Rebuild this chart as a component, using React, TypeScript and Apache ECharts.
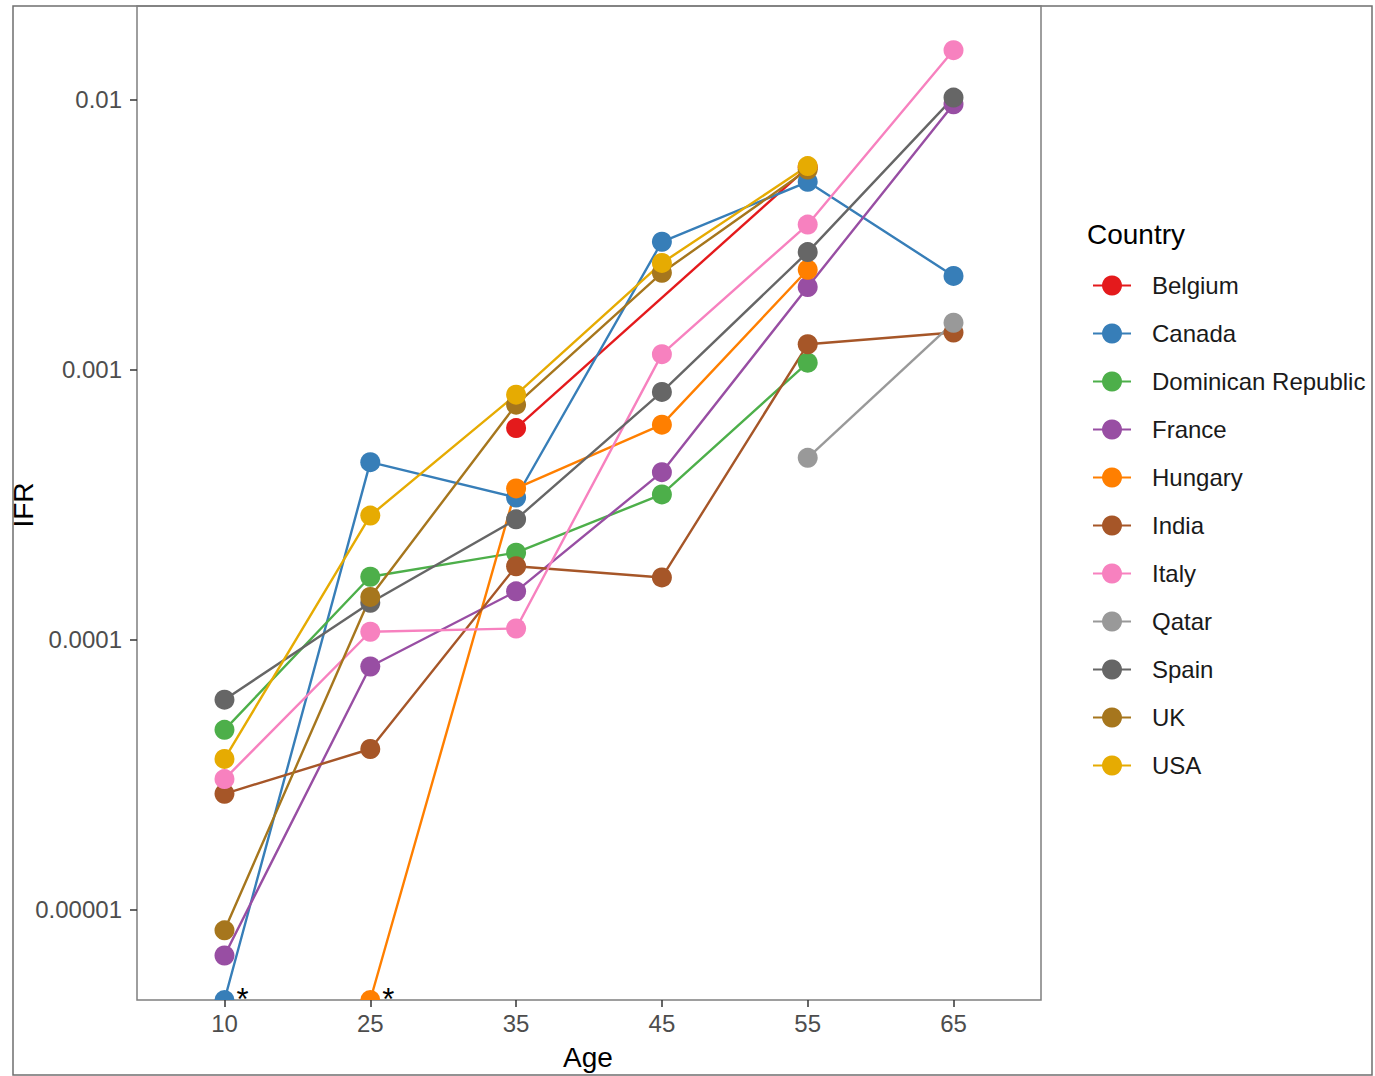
import React, { useEffect, useRef } from "react";
import * as echarts from "echarts";

// ---------- data ----------
const AGES = ["10", "25", "35", "45", "55", "65"];
const COUNTRIES = [
  "Belgium",
  "Canada",
  "Dominican Republic",
  "France",
  "Hungary",
  "India",
  "Italy",
  "Qatar",
  "Spain",
  "UK",
  "USA",
];
const COLORS = [
  "#E41A1C",
  "#377EB8",
  "#4DAF4A",
  "#984EA3",
  "#FF7F00",
  "#A65628",
  "#F781BF",
  "#999999",
  "#666666",
  "#A6761D",
  "#E6AB02",
];
// IFR per age group (10, 25, 35, 45, 55, 65); null = no data, 0 = zero deaths (*)
const BELGIUM = [null, null, 6.07e-4, null, 5.6e-3, null];
const CANADA = [0, 4.54e-4, 3.36e-4, 2.97e-3, 4.95e-3, 2.22e-3];
const DOMINICAN_REPUBLIC = [4.64e-5, 1.71e-4, 2.1e-4, 3.45e-4, 1.06e-3, null];
const FRANCE = [6.78e-6, 7.96e-5, 1.51e-4, 4.17e-4, 2.02e-3, 9.58e-3];
const HUNGARY = [null, 0, 3.63e-4, 6.25e-4, 2.34e-3, null];
const INDIA = [2.69e-5, 3.94e-5, 1.87e-4, 1.7e-4, 1.24e-3, 1.37e-3];
const ITALY = [3.05e-5, 1.07e-4, 1.1e-4, 1.14e-3, 3.44e-3, 1.52e-2];
const QATAR = [null, null, null, null, 4.71e-4, 1.49e-3];
const SPAIN = [6.0e-5, 1.37e-4, 2.79e-4, 8.26e-4, 2.72e-3, 1.015e-2];
const UK = [8.4e-6, 1.44e-4, 7.41e-4, 2.28e-3, 5.5e-3, null];
const USA = [3.62e-5, 2.88e-4, 8.07e-4, 2.48e-3, 5.66e-3, null];
const SERIES_VALUES = [
  BELGIUM,
  CANADA,
  DOMINICAN_REPUBLIC,
  FRANCE,
  HUNGARY,
  INDIA,
  ITALY,
  QATAR,
  SPAIN,
  UK,
  USA,
];
const Y_TICKS = [0.00001, 0.0001, 0.001, 0.01];
const Y_TICK_LABELS = ["0.00001", "0.0001", "0.001", "0.01"];
const ZERO_MARK = "*";

// ---------- layout / style ----------
const Y_MIN = 4.64e-6;
const Y_MAX = 0.02215;
const FONT = "Liberation Sans, Arial, Helvetica, sans-serif";
const HALF_CIRCLE = "path://M0,10A10,10,0,0,1,20,10Z";
const SYMBOL_SIZE = 20;

function buildOption(): any {
  const lineSeries = COUNTRIES.map((name, i) => {
    const pts: any[] = [];
    SERIES_VALUES[i].forEach((v, j) => {
      if (v === null) return;
      pts.push([j, v === 0 ? Y_MIN : v]);
    });
    return {
      type: "line",
      name,
      z: 2,
      data: pts,
      symbol: "circle",
      symbolSize: SYMBOL_SIZE,
      showSymbol: false,
      color: COLORS[i],
      lineStyle: { width: 2.4, color: COLORS[i] },
      itemStyle: { color: COLORS[i] },
      emphasis: { disabled: true },
      clip: true,
      silent: true,
    };
  });
  const pointSeries = COUNTRIES.map((name, i) => {
    const pts: any[] = [];
    SERIES_VALUES[i].forEach((v, j) => {
      if (v === null) return;
      if (v === 0) {
        pts.push({
          value: [j, Y_MIN],
          symbol: HALF_CIRCLE,
          symbolSize: [SYMBOL_SIZE, SYMBOL_SIZE / 2],
          symbolOffset: [0, -SYMBOL_SIZE / 4],
          label: {
            show: true,
            formatter: ZERO_MARK,
            position: "right",
            distance: 2,
            offset: [0, 4],
            fontSize: 31,
            color: "#000",
            fontFamily: FONT,
          },
        });
      } else {
        pts.push([j, v]);
      }
    });
    return {
      type: "scatter",
      name,
      z: 3,
      data: pts,
      symbol: "circle",
      symbolSize: SYMBOL_SIZE,
      color: COLORS[i],
      itemStyle: { color: COLORS[i], opacity: 1 },
      emphasis: { disabled: true },
      clip: false,
      silent: true,
    };
  });

  const tickIdx = AGES.map((_, i) => i);

  return {
    animation: false,
    backgroundColor: "#ffffff",
    textStyle: { fontFamily: FONT },
    grid: {
      left: 137,
      top: 6,
      width: 904,
      height: 994,
      containLabel: false,
      outerBoundsMode: "none",
      show: true,
      borderColor: "#7f7f7f",
      borderWidth: 1.5,
      backgroundColor: "transparent",
    },
    xAxis: {
      type: "value",
      min: -0.6,
      max: 5.6,
      axisLine: { show: false, onZero: false },
      splitLine: { show: false },
      axisTick: {
        show: true,
        length: 7,
        customValues: tickIdx,
        lineStyle: { color: "#333333", width: 1.5 },
      },
      axisLabel: {
        show: true,
        customValues: tickIdx,
        formatter: (v: number) => AGES[Math.round(v)],
        fontSize: 24,
        color: "#4d4d4d",
        margin: 11,
        fontFamily: FONT,
      },
    },
    yAxis: {
      type: "log",
      logBase: 10,
      min: Y_MIN,
      max: Y_MAX,
      axisLine: { show: false, onZero: false },
      splitLine: { show: false },
      minorTick: { show: false },
      axisTick: {
        show: true,
        length: 7,
        customValues: Y_TICKS,
        lineStyle: { color: "#333333", width: 1.5 },
      },
      axisLabel: {
        show: true,
        customValues: Y_TICKS,
        formatter: (v: number) => {
          let best = 0;
          let bd = Infinity;
          Y_TICKS.forEach((t, k) => {
            const d = Math.abs(Math.log10(t) - Math.log10(v));
            if (d < bd) {
              bd = d;
              best = k;
            }
          });
          return Y_TICK_LABELS[best];
        },
        fontSize: 24,
        color: "#4d4d4d",
        margin: 15,
        fontFamily: FONT,
      },
    },
    legend: {
      show: true,
      orient: "vertical",
      left: 1087,
      top: 267.5,
      itemWidth: 38,
      itemHeight: 25,
      itemGap: 22,
      selectedMode: false,
      data: COUNTRIES,
      textStyle: {
        fontSize: 24,
        color: "#1a1a1a",
        fontFamily: FONT,
        padding: [0, 0, 0, 16],
        lineHeight: 26,
      },
    },
    graphic: [
      {
        type: "rect",
        silent: true,
        z: -1,
        shape: { x: 13, y: 6, width: 1359, height: 1069 },
        style: { fill: "none", stroke: "#6f6f6f", lineWidth: 1.5 },
      },
      {
        type: "text",
        silent: true,
        x: 1087,
        y: 234,
        style: {
          text: "Country",
          fontSize: 28,
          fill: "#000000",
          fontFamily: FONT,
          textAlign: "left",
          textVerticalAlign: "middle",
          align: "left",
          verticalAlign: "middle",
        },
      },
      {
        type: "text",
        silent: true,
        x: 23,
        y: 505,
        rotation: Math.PI / 2,
        style: {
          text: "IFR",
          fontSize: 28,
          fill: "#000000",
          fontFamily: FONT,
          textAlign: "center",
          textVerticalAlign: "middle",
          align: "center",
          verticalAlign: "middle",
        },
      },
      {
        type: "text",
        silent: true,
        x: 588,
        y: 1057,
        style: {
          text: "Age",
          fontSize: 28,
          fill: "#000000",
          fontFamily: FONT,
          textAlign: "center",
          textVerticalAlign: "middle",
          align: "center",
          verticalAlign: "middle",
        },
      },
    ],
    series: [...lineSeries, ...pointSeries],
  };
}

export default function App() {
  const ref = useRef<HTMLDivElement>(null);
  useEffect(() => {
    if (!ref.current) return;
    const chart = echarts.init(ref.current, undefined, { renderer: "svg" });
    chart.setOption(buildOption());
    return () => {
      chart.dispose();
    };
  }, []);
  return (
    <div
      ref={ref}
      style={{
        position: "fixed",
        left: 0,
        top: 0,
        width: 1375,
        height: 1076,
        background: "#ffffff",
      }}
    />
  );
}
